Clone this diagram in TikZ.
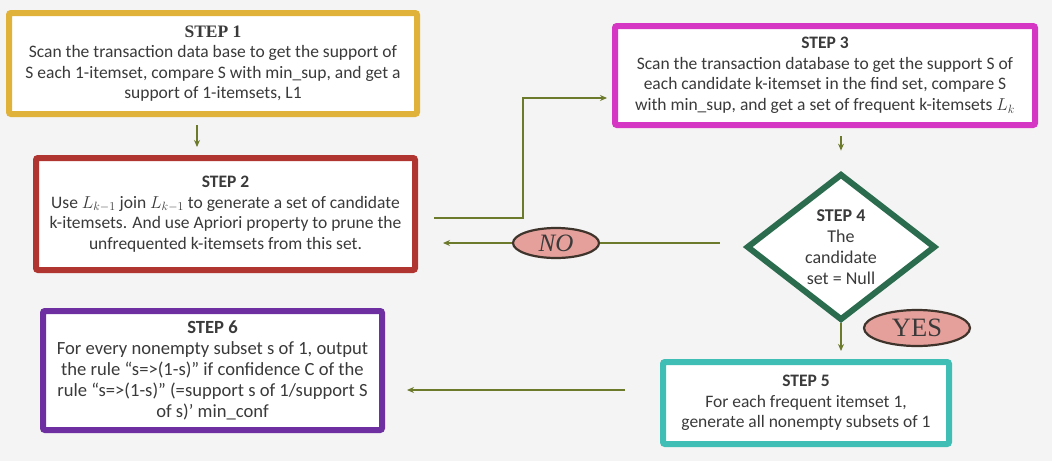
\documentclass[tikz,border=0pt]{standalone}
\usepackage{fontspec}
\setmainfont{Carlito}
\newfontfamily\serifx{Liberation Serif}
\usetikzlibrary{shapes.geometric,arrows.meta,calc}
\definecolor{bgc}{RGB}{244,244,244}
\definecolor{txt}{RGB}{58,58,58}
\definecolor{c1}{RGB}{224,178,58}
\definecolor{c2}{RGB}{176,52,48}
\definecolor{c3}{RGB}{214,54,196}
\definecolor{c4}{RGB}{44,108,78}
\definecolor{c5}{RGB}{62,190,180}
\definecolor{c6}{RGB}{110,48,160}
\definecolor{lnc}{RGB}{108,122,44}
\definecolor{elf}{RGB}{230,160,155}
\definecolor{eld}{RGB}{62,52,44}
\tikzset{
  stepbox/.style={draw, line width=6pt, fill=white, rounded corners=2pt, align=center,
    text=txt, inner sep=0pt, font=\fontsize{17.5pt}{20.5pt}\selectfont},
  decision/.style={diamond, draw=c4, line width=6pt, fill=white, align=center, text=txt,
    inner sep=0pt, font=\fontsize{18pt}{21pt}\selectfont},
  answer/.style={ellipse, draw=eld, line width=2.2pt, fill=elf, text=txt, inner sep=0pt},
  conn/.style={draw=lnc, line width=2.4pt},
  arr/.style={conn, -{Stealth[length=7pt,width=6pt]}}
}
\begin{document}
\begin{tikzpicture}[x=1pt,y=-1pt]
\useasboundingbox (0,0) rectangle (1052,461);
\fill[bgc] (0,0) rectangle (1052,461);

\node[stepbox, draw=c1, minimum width=408pt, minimum height=101pt] (s1) at (213,63.5)
  {{\serifx\bfseries STEP 1}\\Scan the transaction data base to get the support of\\S each 1-itemset, compare S with min\_sup, and get a\\support of 1-itemsets, L1};

\node[stepbox, draw=c2, minimum width=379pt, minimum height=112pt] (s2) at (225.5,214)
  {\textbf{STEP 2}\\Use $L_{k-1}$ join $L_{k-1}$ to generate a set of candidate\\k-itemsets. And use Apriori property to prune the\\unfrequented k-itemsets from this set.};

\node[stepbox, draw=c3, minimum width=420pt, minimum height=99pt] (s3) at (825,75.5)
  {\textbf{STEP 3}\\Scan the transaction database to get the support S of\\each candidate k-itemset in the find set, compare S\\with min\_sup, and get a set of frequent k-itemsets $L_k$};

\node[decision, minimum width=189pt, minimum height=142pt] (s4) at (841,247)
  {\textbf{STEP 4}\\The\\candidate\\set = Null};

\node[stepbox, draw=c5, minimum width=286pt, minimum height=82pt] (s5) at (806,403)
  {\textbf{STEP 5}\\For each frequent itemset 1,\\generate all nonempty subsets of 1};

\node[stepbox, draw=c6, minimum width=339pt, minimum height=119pt, font=\fontsize{18.6pt}{21pt}\selectfont] (s6) at (212.5,370.5)
  {\textbf{STEP 6}\\For every nonempty subset s of 1, output\\the rule “s=>(1-s)” if confidence C of the\\rule “s=>(1-s)” (=support s of 1/support S\\of s)’ min\_conf};

\node[answer, minimum width=86pt, minimum height=30pt, font=\serifx\itshape\fontsize{25pt}{25pt}\selectfont] (no) at (556,243) {NO};
\node[answer, minimum width=106pt, minimum height=36pt, font=\serifx\fontsize{26.5pt}{26.5pt}\selectfont] (yes) at (917,328) {YES};

% connectors
\draw[arr, shorten <=8pt, shorten >=8pt] ($(s1.south)+(-16pt,0)$) -- ($(s2.north)+(-28.5pt,0)$);
\draw[arr, shorten <=16pt, shorten >=5pt] ([yshift=-4pt]s2.east) -- ++(105pt,0) |- ([yshift=-22.5pt]s3.west);
\draw[arr, shorten <=8pt, shorten >=20pt] (s4.north |- s3.south) -- (s4.north);
\draw[conn, shorten <=24pt] (no.east -| s4.west) -- (no.east);
\draw[arr, shorten >=25pt] (no.west) -- (no.west -| s2.east);
\draw[arr, shorten >=8pt] (s4.south) -- (s4.south |- s5.north);
\draw[arr, shorten <=35pt, shorten >=22pt] ([yshift=13pt]s5.west) -- ([yshift=13pt]s5.west -| s6.east);
\end{tikzpicture}
\end{document}
